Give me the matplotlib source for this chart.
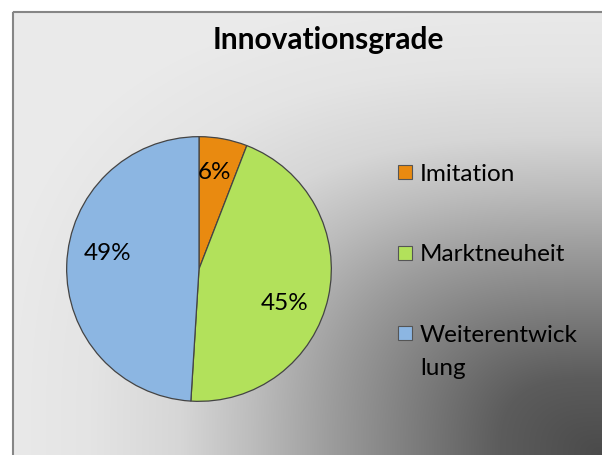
import textwrap
import numpy as np
import matplotlib
matplotlib.use("Agg")
import matplotlib.pyplot as plt
from matplotlib.patches import Rectangle

# data
title = "Innovationsgrade"
categories = ["Imitation", "Marktneuheit", "Weiterentwicklung"]
counts = [3, 23, 25]
colors = ["#E98A10", "#B2E15B", "#8CB6E2"]

W, H = 602, 456
plt.rcParams["font.family"] = ["Lato", "DejaVu Sans"]

fig = plt.figure(figsize=(W / 100, H / 100), dpi=100)

# background with corner gradient (dark at bottom right)
bg = fig.add_axes([0, 0, 1, 1])
yy, xx = np.mgrid[0:H, 0:W]
p = 3.0
t = ((np.abs(W - xx) / W) ** p + (np.abs(H - yy) / H) ** p) ** (1 / p)
stops_t = [0, 0.17, 0.45, 0.58, 0.70, 0.85, 1.0]
stops_g = [0x4a, 0x5c, 0x9c, 0xbc, 0xd6, 0xe4, 0xea]
g = np.interp(t, stops_t, stops_g) / 255.0
img = np.dstack([g, g, g])
img[:12, :, :] = 1.0
img[:, :12, :] = 1.0
bg.imshow(img, extent=(0, W, H, 0), interpolation="bilinear", aspect="auto")
bg.set_xlim(0, W)
bg.set_ylim(H, 0)
bg.axis("off")
bg.add_patch(Rectangle((13, 13), W + 20, H + 20, fill=False,
                       edgecolor="#868686", linewidth=1.5))

bg.text(328, 40, title, ha="center", va="center", fontsize=21.5,
        fontweight="bold", color="black")

# legend, drawn by hand like Excel does it
for i, (lab, col) in enumerate(zip(categories, colors)):
    base = 181 + i * 80.5
    bg.add_patch(Rectangle((398, base - 15), 14, 14, facecolor=col,
                           edgecolor="#555555", linewidth=0.8))
    for j, line in enumerate(textwrap.wrap(lab, 13, break_long_words=True)):
        bg.text(420, base + j * 33, line, ha="left", va="baseline",
                fontsize=17.5, color="black")

# pie
cx, cy, r = 199, 270, 133
ax = fig.add_axes([(cx - r) / W, (H - cy - r) / H, 2 * r / W, 2 * r / H])
wedges, _, autotexts = ax.pie(counts, colors=colors, startangle=90,
                              counterclock=False, autopct="%1.0f%%",
                              pctdistance=0.72,
                              wedgeprops=dict(edgecolor="#444444", linewidth=0.9),
                              textprops=dict(fontsize=17.5, color="black"))
pct_pos = [(0.12, 0.74), (0.65, -0.255), (-0.69, 0.125)]
for txt, pos in zip(autotexts, pct_pos):
    txt.set_position(pos)
ax.set_xlim(-1.005, 1.005)
ax.set_ylim(-1.005, 1.005)
ax.axis("off")

fig.savefig("out.png", dpi=100)
